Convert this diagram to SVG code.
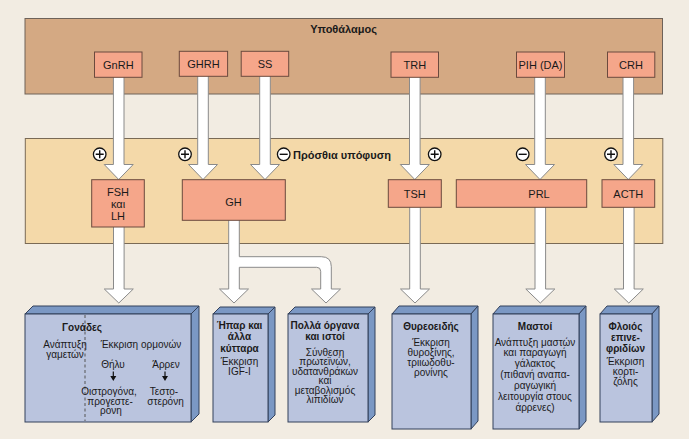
<svg xmlns="http://www.w3.org/2000/svg" width="689" height="439" viewBox="0 0 689 439">
<style>
text{font-family:"Liberation Sans",Arial,sans-serif;fill:#1a1a1a;text-anchor:middle}
.t{font-size:11px}
.b{font-size:10px;font-weight:bold}
.r{font-size:10px}
.band1{fill:#d4a983;stroke:#6e6259;stroke-width:1}
.band2{fill:#f4d9a9;stroke:#7a6a55;stroke-width:1}
.hb{fill:#f5a68a;stroke:#6b4a3e;stroke-width:1}
.arr{fill:#ffffff;stroke:#8a8a8a;stroke-width:1;stroke-linejoin:miter}
.front{fill:#bac4de;stroke:#33405a;stroke-width:1}
.face{fill:#7b98c4;stroke:#33405a;stroke-width:1;stroke-linejoin:round}
.sig{fill:#ffffff;stroke:#111;stroke-width:1.3}
.sgn{stroke:#111;stroke-width:1.4}
</style>
<rect x="0" y="0" width="689" height="439" fill="#f2ece2"/>

<g id="hypothalamus">
<rect class="band1" x="25" y="18.5" width="637.5" height="75.5"/>
<text class="t" style="font-weight:bold" x="343.6" y="33">Υποθάλαμος</text>
</g>
<g id="pituitary">
<rect class="band2" x="25.3" y="138.5" width="637.5" height="105"/>
<text class="t" style="font-weight:bold;text-anchor:start" x="293" y="158.5">Πρόσθια υπόφυση</text>
</g>

<g id="connectors">
<path class="arr" d="M113.4,75 V164.5 H104.2 L118.7,179.5 L133.2,164.5 H124 V75 Z"/>
<path class="arr" d="M197.7,75 V164.5 H188.5 L203,179.5 L217.5,164.5 H208.3 V75 Z"/>
<path class="arr" d="M259.7,75 V164.5 H250.5 L265,179.5 L279.5,164.5 H270.3 V75 Z"/>
<path class="arr" d="M409.5,75 V164.5 H400.3 L414.8,179.5 L429.3,164.5 H420.1 V75 Z"/>
<path class="arr" d="M534.7,75 V164.5 H525.5 L540,179.5 L554.5,164.5 H545.3 V75 Z"/>
<path class="arr" d="M623,75 V164.5 H613.8 L628.3,179.5 L642.8,164.5 H633.6 V75 Z"/>
<path class="arr" d="M113.5,225 V289 H104.3 L118.8,303 L133.3,289 H124.1 V225 Z"/>
<path class="arr" d="M228.7,218 V289 H219.5 L234,303 L248.5,289 H239.3 V267.3 H316.7 Q320.7,267.3 320.7,271.3 V289 H311.5 L326,303 L340.5,289 H331.3 V266.7 Q331.3,256.7 321.3,256.7 H239.3 V218 Z"/>
<path class="arr" d="M409.7,205 V289 H400.5 L415,303 L429.5,289 H420.3 V205 Z"/>
<path class="arr" d="M535,205 V289 H525.8 L540.3,303 L554.8,289 H545.6 V205 Z"/>
<path class="arr" d="M623.5,205 V289 H614.3 L628.8,303 L643.3,289 H634.1 V205 Z"/>
</g>

<g id="GnRH"><rect class="hb" x="94.5" y="52" width="47.5" height="25.3"/><text class="t" x="118.3" y="68.5">GnRH</text></g>
<g id="GHRH"><rect class="hb" x="179.3" y="51.3" width="48.3" height="25"/><text class="t" x="203.5" y="67.8">GHRH</text></g>
<g id="SS"><rect class="hb" x="241.2" y="51.3" width="47.5" height="25"/><text class="t" x="265" y="67.8">SS</text></g>
<g id="TRH"><rect class="hb" x="391" y="52" width="47.5" height="25.3"/><text class="t" x="414.8" y="68.5">TRH</text></g>
<g id="PIH"><rect class="hb" x="516.5" y="52" width="48" height="25.3"/><text class="t" x="540.5" y="68.5">PIH (DA)</text></g>
<g id="CRH"><rect class="hb" x="607.5" y="52" width="47.3" height="25.3"/><text class="t" x="631" y="68.5">CRH</text></g>

<g id="FSH"><rect class="hb" x="91.7" y="179.7" width="52.6" height="47.3"/>
<text class="t" x="118" y="195.5">FSH</text><text class="t" x="118" y="207.5">και</text><text class="t" x="118" y="220">LH</text></g>
<g id="GH"><rect class="hb" x="182.3" y="179.7" width="103" height="40.6"/><text class="t" x="233.5" y="205.5">GH</text></g>
<g id="TSH"><rect class="hb" x="388.3" y="179.7" width="53" height="27.6"/><text class="t" x="414.8" y="197.5">TSH</text></g>
<g id="PRL"><rect class="hb" x="456.3" y="179.7" width="130.4" height="27.6"/><text class="t" x="539" y="197.5">PRL</text></g>
<g id="ACTH"><rect class="hb" x="602" y="179.7" width="52.7" height="27.6"/><text class="t" x="628.3" y="197.5">ACTH</text></g>

<g id="signs">
<circle class="sig" cx="99.7" cy="154.3" r="6.3"/><path class="sgn" d="M95.7,154.3 H103.7 M99.7,150.3 V158.3"/>
<circle class="sig" cx="185" cy="154.3" r="6.3"/><path class="sgn" d="M181,154.3 H189 M185,150.3 V158.3"/>
<circle class="sig" cx="283.7" cy="154.3" r="6.3"/><path class="sgn" d="M279.7,154.3 H287.7"/>
<circle class="sig" cx="434.7" cy="154.3" r="6.3"/><path class="sgn" d="M430.7,154.3 H438.7 M434.7,150.3 V158.3"/>
<circle class="sig" cx="522.7" cy="154.3" r="6.3"/><path class="sgn" d="M518.7,154.3 H526.7"/>
<circle class="sig" cx="611" cy="154.3" r="6.3"/><path class="sgn" d="M607,154.3 H615 M611,150.3 V158.3"/>
</g>

<g id="gonads">
<polygon class="face" points="25,314 33,306 199,306 191,314"/>
<polygon class="face" points="191,314 199,306 199,414 191,422"/>
<rect class="front" x="25" y="314" width="166" height="108"/>
<line x1="85" y1="315" x2="85" y2="421" stroke="#555" stroke-width="1" stroke-dasharray="3,2.5"/>
<text class="b" x="82" y="331">Γονάδες</text>
<text class="r" x="65" y="347.5">Ανάπτυξη</text>
<text class="r" x="65" y="357.5">γαμετών</text>
<text class="r" x="141" y="347.5">Έκκριση ορμονών</text>
<text class="r" x="113" y="367.5">Θήλυ</text>
<text class="r" x="166" y="367.5">Άρρεν</text>
<path d="M113.3,371.5 V377 M165,371.5 V377" stroke="#111" stroke-width="1.2"/>
<path d="M110.3,376 L116.3,376 L113.3,381 Z M162,376 L168,376 L165,381 Z" fill="#111"/>
<text class="r" x="109" y="395">Οιστρογόνα,</text>
<text class="r" x="164" y="395">Τεστο-</text>
<text class="r" x="110" y="404.5">προγεστε-</text>
<text class="r" x="165.5" y="404.5">στερόνη</text>
<text class="r" x="111" y="414">ρόνη</text>
</g>

<g id="liver">
<polygon class="face" points="213,314 220,307 275,307 268,314"/>
<polygon class="face" points="268,314 275,307 275,415 268,422"/>
<rect class="front" x="213" y="314" width="55" height="108"/>
<text class="b" x="239.5" y="328.5">Ήπαρ και</text>
<text class="b" x="239.5" y="340">άλλα</text>
<text class="b" x="239.5" y="351.5">κύτταρα</text>
<text class="r" x="239.5" y="365">Έκκριση</text>
<text class="r" x="239.5" y="375">IGF-I</text>
</g>

<g id="organs">
<polygon class="face" points="288,314 295,307 375,307 368,314"/>
<polygon class="face" points="368,314 375,307 375,415 368,422"/>
<rect class="front" x="288" y="314" width="80" height="108"/>
<text class="b" x="325" y="328.5">Πολλά όργανα</text>
<text class="b" x="325" y="340">και ιστοί</text>
<text class="r" x="325" y="355.5">Σύνθεση</text>
<text class="r" x="325" y="365">πρωτεϊνών,</text>
<text class="r" x="325" y="374.5">υδατανθράκων</text>
<text class="r" x="325" y="384">και</text>
<text class="r" x="325" y="393.5">μεταβολισμός</text>
<text class="r" x="325" y="403">λιπιδίων</text>
</g>

<g id="thyroid">
<polygon class="face" points="392,314 399,306 478,306 471,314"/>
<polygon class="face" points="471,314 478,306 478,421 471,429"/>
<rect class="front" x="392" y="314" width="79" height="115"/>
<text class="b" x="431" y="329.5">Θυρεοειδής</text>
<text class="r" x="431" y="345.8">Έκκριση</text>
<text class="r" x="431" y="356.2">θυροξίνης,</text>
<text class="r" x="431" y="366.4">τριιωδοθυ-</text>
<text class="r" x="431" y="376.4">ρονίνης</text>
</g>

<g id="breasts">
<polygon class="face" points="493,314 500,306 586,306 579,314"/>
<polygon class="face" points="579,314 586,306 586,421 579,429"/>
<rect class="front" x="493" y="314" width="86" height="115"/>
<text class="b" x="535" y="329.5">Μαστοί</text>
<text class="r" x="535" y="345.8">Ανάπτυξη μαστών</text>
<text class="r" x="535" y="356.4">και παραγωγή</text>
<text class="r" x="535" y="367">γάλακτος</text>
<text class="r" x="535" y="377.6">(πιθανή αναπα-</text>
<text class="r" x="535" y="388.6">ραγωγική</text>
<text class="r" x="535" y="399.6">λειτουργία στους</text>
<text class="r" x="535" y="410.6">άρρενες)</text>
</g>

<g id="adrenal">
<polygon class="face" points="600,314 607,306 659,306 652,314"/>
<polygon class="face" points="652,314 659,306 659,414 652,422"/>
<rect class="front" x="600" y="314" width="52" height="108"/>
<text class="b" x="625.5" y="330">Φλοιός</text>
<text class="b" x="625.5" y="341">επινε-</text>
<text class="b" x="625.5" y="352">φριδίων</text>
<text class="r" x="625.5" y="365">Έκκριση</text>
<text class="r" x="625.5" y="375">κορτι-</text>
<text class="r" x="625.5" y="385">ζόλης</text>
</g>
</svg>
